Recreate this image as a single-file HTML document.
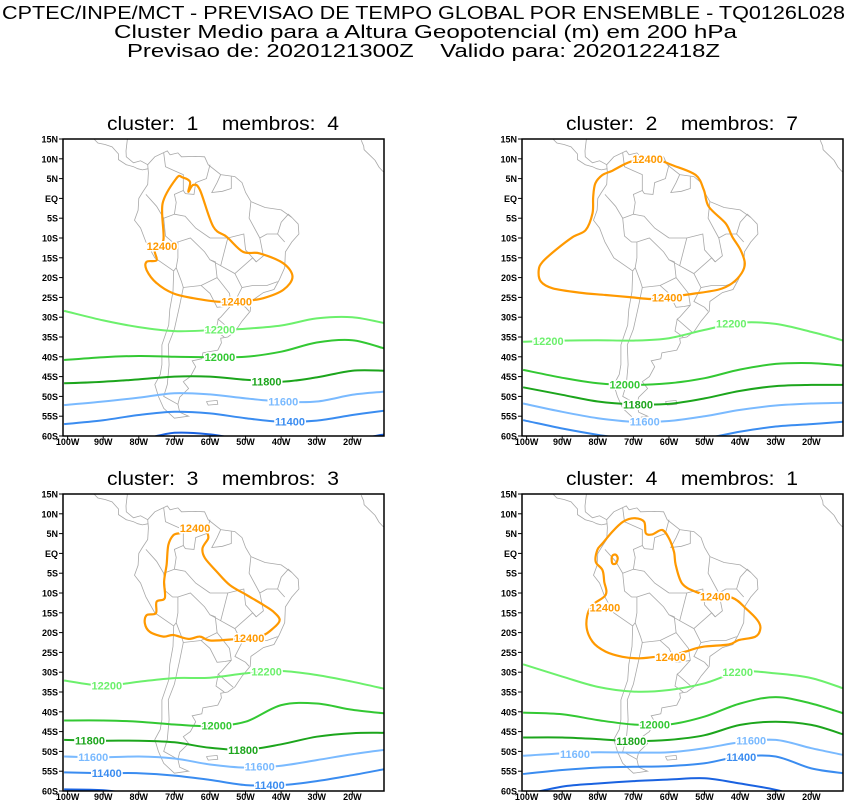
<!DOCTYPE html>
<html><head><meta charset="utf-8">
<style>
body{margin:0;background:#fff;}
svg{display:block;}
text{font-family:"Liberation Sans",sans-serif;white-space:pre;}
</style></head>
<body>
<svg id="chart" width="847" height="803" viewBox="0 0 847 803" xmlns="http://www.w3.org/2000/svg">
<text x="2" y="19" font-size="18" textLength="843" lengthAdjust="spacingAndGlyphs">CPTEC/INPE/MCT - PREVISAO DE TEMPO GLOBAL POR ENSEMBLE - TQ0126L028</text>
<text x="114" y="38" font-size="18" textLength="623" lengthAdjust="spacingAndGlyphs">Cluster Medio para a Altura Geopotencial (m) em 200 hPa</text>
<text x="127" y="57" font-size="18" textLength="593" lengthAdjust="spacingAndGlyphs">Previsao de: 2020121300Z    Valido para: 2020122418Z</text>
</svg>
<script>
// ---------- data ----------
const lonGrid = [-101,-90,-80,-70,-60,-50,-40,-30,-20,-11];
const latTicks = [15,10,5,0,-5,-10,-15,-20,-25,-30,-35,-40,-45,-50,-55,-60];
const latTickLabels = ["15N","10N","5N","EQ","5S","10S","15S","20S","25S","30S","35S","40S","45S","50S","55S","60S"];
const lonTicks = [-100,-90,-80,-70,-60,-50,-40,-30,-20];
const lonTickLabels = ["100W","90W","80W","70W","60W","50W","40W","30W","20W"];
const clusterIds = [1,2,3,4];
const memberCounts = [4,7,3,1];
const levels = [12200,12000,11800,11600,11400,11200];
const levelColors = {12400:"#ff9900",12200:"#6cf06c",12000:"#33c833",11800:"#1ca51c",11600:"#7abaff",11400:"#3a8cf0",11200:"#1a62e0"};

const c1_12200=[-28.4,-30.8,-32.5,-33.5,-33.3,-32.9,-32.1,-30.3,-30.0,-31.5];
const c1_12000=[-40.8,-40.1,-39.8,-40.0,-40.1,-40.0,-38.7,-36.4,-35.8,-37.9];
const c1_11800=[-46.7,-46.3,-45.7,-45.0,-45.0,-45.8,-46.3,-45.2,-43.5,-43.5];
const c1_11600=[-52.2,-51.3,-50.3,-49.2,-49.5,-50.5,-51.3,-51.3,-49.6,-48.8];
const c1_11400=[-57.0,-56.0,-54.7,-53.9,-54.3,-55.5,-56.4,-56.1,-54.7,-53.6];
const c1_11200=[-62,-62,-61,-59.2,-59.6,-61,-62,-62,-61,-59.6];

const c2_12200=[-36.2,-35.9,-35.8,-35.9,-35.3,-33.2,-31.4,-31.7,-33.7,-35.9];
const c2_12000=[-43.3,-45.3,-46.7,-47.1,-46.7,-45.4,-43.2,-41.8,-41.6,-42.2];
const c2_11800=[-47.7,-49.6,-51.3,-52.0,-51.9,-50.5,-48.6,-47.4,-47.1,-47.1];
const c2_11600=[-51.8,-53.9,-55.5,-56.4,-56.2,-55.0,-53.4,-52.3,-51.8,-51.6];
const c2_11400=[-56.0,-58.1,-59.7,-61.0,-61.4,-60.6,-58.9,-57.6,-57.0,-56.4];
const c2_11200=[-64,-64,-65,-66,-66,-66,-65,-64,-63,-63];

const c3_12200=[-32.1,-33.4,-32.4,-31.5,-31.4,-30.3,-29.7,-30.7,-32.4,-34.2];
const c3_12000=[-42.2,-42.2,-42.5,-43.2,-43.6,-42.5,-38.3,-37.9,-39.5,-40.4];
const c3_11800=[-47.1,-47.3,-47.3,-47.7,-49.1,-49.6,-48.2,-46.3,-45.4,-45.3];
const c3_11600=[-51.3,-51.5,-51.3,-51.8,-53.3,-54.1,-53.6,-52.2,-50.7,-49.6];
const c3_11400=[-55.3,-55.5,-55.5,-56.1,-57.2,-58.5,-58.5,-57.5,-56.0,-54.5];
const c3_11200=[-59.6,-59.8,-61,-62,-63,-64,-64,-63,-62,-61];

const c4_12200=[-28.0,-31.1,-33.7,-34.9,-34.5,-32.8,-29.9,-30.3,-31.5,-34.1];
const c4_12000=[-40.2,-40.6,-42.1,-43.2,-43.2,-41.2,-37.9,-36.3,-37.9,-40.4];
const c4_11800=[-46.5,-46.5,-46.9,-47.4,-47.1,-45.9,-43.3,-42.5,-43.3,-45.7];
const c4_11600=[-51.1,-50.5,-50.2,-50.3,-50.2,-49.2,-47.7,-47.1,-49.2,-50.9];
const c4_11400=[-55.7,-54.7,-54.1,-53.9,-53.7,-53.0,-51.3,-51.3,-54.3,-55.5];
const c4_11200=[-61.0,-58.9,-58.1,-57.5,-57.1,-56.8,-58.1,-59.7,-62.0,-63.0];

const c1_12400=[[-73.1,-10.5],[-73.3,-1.3],[-69.4,5.1],[-67.7,5.3],[-65.6,4.2],[-66.1,1.7],[-64.7,3.4],[-62.8,2.1],[-59.1,-7.1],[-55.3,-9.7],[-50.7,-13.5],[-46.0,-13.9],[-39.4,-16.4],[-36.8,-19.8],[-39.4,-23.1],[-45.0,-25.2],[-49.7,-25.8],[-57.2,-26.1],[-64.7,-25.2],[-70.3,-24.0],[-75.0,-21.4],[-77.8,-18.1],[-77.8,-16.0],[-75.0,-15.6],[-75.5,-13.0],[-73.1,-10.5]];
const c2_12400=[[-70.7,9.3],[-64.7,10.1],[-59.1,8.4],[-52.5,5.9],[-50.2,2.1],[-48.8,-2.1],[-44.1,-6.3],[-42.2,-9.7],[-39.9,-13.0],[-38.7,-16.4],[-39.6,-18.9],[-42.2,-21.4],[-46.0,-23.0],[-52.5,-24.0],[-59.1,-24.8],[-64.7,-25.4],[-70.3,-25.0],[-77.8,-24.4],[-85.2,-23.8],[-92.7,-22.7],[-96.0,-21.0],[-96.6,-18.1],[-95.5,-16.0],[-91.8,-13.0],[-87.1,-9.8],[-83.4,-8.0],[-81.5,-3.8],[-81.3,0.4],[-80.7,3.8],[-78.7,5.9],[-75.9,7.0],[-70.7,9.3]];
const c3_12400=[[-68.4,5.1],[-70.3,4.6],[-71.7,2.1],[-72.2,-2.9],[-72.9,-7.1],[-72.7,-11.3],[-75.0,-12.2],[-75.2,-15.1],[-77.8,-15.6],[-78.3,-17.7],[-76.9,-19.8],[-73.1,-21.0],[-70.3,-20.6],[-66.1,-21.6],[-62.8,-21.0],[-60.0,-22.0],[-53.5,-21.7],[-46.0,-21.0],[-42.2,-18.9],[-40.4,-16.8],[-42.2,-14.7],[-45.0,-13.0],[-49.7,-10.5],[-54.4,-8.0],[-58.1,-4.6],[-61.4,-1.2],[-62.1,1.3],[-60.5,3.8],[-60.8,5.3]];
const c4_12400=[[-72.9,8.0],[-69.8,8.9],[-67.0,8.0],[-66.5,5.1],[-64.7,4.8],[-61.9,5.9],[-60.0,3.8],[-58.6,0.4],[-58.1,-2.9],[-56.3,-7.6],[-52.5,-9.7],[-48.8,-10.5],[-42.2,-11.2],[-38.4,-13.9],[-35.2,-16.8],[-34.3,-18.9],[-35.7,-21.0],[-40.4,-21.9],[-43.2,-23.0],[-50.7,-23.6],[-55.3,-24.8],[-59.1,-25.7],[-64.7,-26.2],[-68.4,-26.5],[-73.1,-26.1],[-77.8,-24.8],[-81.5,-22.3],[-83.2,-18.1],[-82.0,-13.5],[-77.8,-10.5],[-78.2,-7.1],[-78.7,-4.2],[-80.6,-2.1],[-80.1,0.9],[-78.7,2.5],[-75.9,5.5],[-72.9,8.0]];
const c4_12400b=[[-75.9,-0.6],[-75.0,-0.3],[-74.4,-1.2],[-74.9,-2.5],[-75.8,-2.6],[-76.1,-1.6],[-75.9,-0.6]];

const c1_labels=[[12400,-73.5,-12.0],[12400,-52.5,-26.0],[12200,-57.2,-33.1],[12000,-57.2,-40.1],[11800,-44.1,-46.2],[11600,-39.4,-51.3],[11400,-37.5,-56.4]];
const c2_labels=[[12400,-66.0,9.9],[12400,-60.5,-25.0],[12200,-93.9,-36.0],[12200,-42.5,-31.6],[12000,-72.4,-47.0],[11800,-68.7,-52.0],[11600,-66.8,-56.4]];
const c3_labels=[[12400,-64.2,6.4],[12400,-49.0,-21.4],[12200,-89.0,-33.3],[12200,-44.1,-29.8],[12000,-58.1,-43.4],[11800,-93.7,-47.2],[11800,-50.7,-49.6],[11600,-92.8,-51.4],[11600,-46.0,-53.8],[11400,-89.0,-55.5],[11400,-43.2,-58.5]];
const c4_labels=[[12400,-78.0,-13.6],[12400,-47.0,-10.9],[12400,-59.5,-26.1],[12200,-40.7,-29.9],[12000,-64.0,-43.2],[11800,-70.6,-47.4],[11600,-86.4,-50.6],[11600,-36.9,-47.3],[11400,-39.7,-51.4]];

const coastSA=[[-77.5,8.5],[-75.5,10.5],[-72,12],[-71.2,11],[-69,11.5],[-68,10.5],[-64,10.6],[-61.5,10.5],[-60.5,8.5],[-57,6],[-53,5.5],[-51,4],[-50,1.5],[-48.5,-0.8],[-44.5,-2.3],[-40,-2.9],[-37,-4.8],[-35.2,-6.5],[-35,-9],[-37,-11],[-38.8,-13.5],[-39,-17.5],[-40.5,-20.5],[-42,-23],[-45,-23.8],[-48.5,-26],[-48.7,-28.5],[-51,-31],[-53,-33.7],[-55,-35],[-57,-35.3],[-56.8,-36.5],[-57.8,-38.3],[-62,-39],[-62.3,-40.5],[-65,-41],[-64,-42.5],[-65.5,-45],[-67.5,-46.3],[-66,-48],[-68.5,-50.2],[-69,-52],[-68.5,-54],[-66,-55],[-70,-55.5],[-73,-53],[-74.5,-50],[-75.5,-47],[-74,-44.5],[-73.5,-42],[-73.5,-37],[-71.6,-32],[-71.3,-28],[-70.4,-23.5],[-70.2,-18.3],[-75.5,-15],[-78,-11],[-79.5,-7.5],[-81.2,-5.5],[-80.2,-3],[-80,0],[-79,1.5],[-77.5,3.5],[-77.3,6.5],[-77.5,8.5]];
const coastCA=[[-77.5,8.5],[-79.5,9.5],[-81.5,9],[-83.5,10.5],[-83.6,12],[-83.2,15],[-85,16],[-88,16],[-88.5,18],[-87.5,20],[-86.8,21.5]];
const coastCA2=[[-77.3,7.5],[-79,7.2],[-80.3,7.5],[-81.5,8],[-83.5,8.5],[-85.7,9.8],[-85.7,11.2],[-87.5,13],[-89.5,13.6],[-91.5,14],[-93.5,15.8],[-95,16.2]];
const coastAF=[[-17.5,14.7],[-16.8,13.2],[-16.7,12.3],[-15.2,11],[-13.6,9.6],[-12.5,7.9],[-11.5,6.9],[-10,6]];
const borders=[
 [[-73,11.5],[-72.5,8],[-70,7],[-67.5,6],[-67.5,2],[-70,1],[-69.5,-1],[-70,-4],[-73,-5],[-75,-2],[-78,1]],
 [[-60,8.5],[-61,5],[-64,4],[-64.5,1],[-66.9,1.2],[-67.5,2]],
 [[-57,6],[-58,4],[-59.5,1.5],[-56.5,1.8],[-54,2.5],[-54,5.5]],
 [[-73,-5],[-72.5,-9.5],[-70.5,-11],[-69,-11],[-65.5,-10],[-61.5,-13.5],[-60,-15.5],[-58.5,-16],[-58,-20],[-54.5,-24],[-54,-27],[-57,-30],[-57.7,-30.5],[-53.5,-33.8]],
 [[-69,-11],[-69,-15],[-69.5,-17.5],[-68,-21],[-67.5,-22.5],[-62.5,-22],[-58,-20]],
 [[-69.5,-17.5],[-70.2,-18.3]],
 [[-67.5,-22.5],[-68.5,-27],[-70,-33],[-71.7,-37],[-71.5,-42],[-72,-47],[-73,-50],[-69,-52]],
 [[-62.5,-22],[-60,-24],[-58,-27.5],[-55.8,-27.3],[-54,-27]],
 [[-57.7,-30.5],[-58.3,-33.5],[-56,-35]],
 [[-60,-10],[-55,-10],[-50.5,-9],[-50,-13],[-47,-16],[-45,-14.5],[-46,-10],[-44,-9],[-41,-9],[-39,-11]],
 [[-55,-10],[-57,-17],[-53,-19],[-51,-22.5],[-48,-22],[-44,-22],[-41,-21]],
 [[-53,-19],[-48,-15],[-47,-16]],
 [[-60,-10],[-64,-7.5],[-67,-4.5],[-70,-4]],
 [[-57,-17],[-60,-15.5]],
 [[-46,-10],[-49,-5],[-48.5,-0.8]],
 [[-41,-9],[-40,-6],[-38,-4],[-37,-4.8]],
 [[-51,-22.5],[-53,-26],[-50,-27.5],[-49,-28.5]]
];
const falklands=[[-61,-51.3],[-58,-51],[-57.8,-52],[-60.5,-52.2],[-61,-51.3]];

// ---------- drawing ----------
const NS="http://www.w3.org/2000/svg";
const svg=document.getElementById("chart");
const PW=321, PH=297, LONL=-101.3, LONR=-11.1, LATT=15, LATB=-60;
const panelOrigins=[[63,139],[522,139],[63,494],[522,494]];

function mk(tag,attrs,parent){const e=document.createElementNS(NS,tag);for(const k in attrs)e.setAttribute(k,attrs[k]);(parent||svg).appendChild(e);return e;}
function catmull(pts,closed){
  if(pts.length<2)return "";
  let d="M"+pts[0][0].toFixed(1)+","+pts[0][1].toFixed(1);
  const n=pts.length;
  for(let i=0;i<n-1;i++){
    const p0=pts[i>0?i-1:(closed?n-2:0)],p1=pts[i],p2=pts[i+1],p3=pts[i+2<n?i+2:(closed?1:n-1)];
    const c1x=p1[0]+(p2[0]-p0[0])/6,c1y=p1[1]+(p2[1]-p0[1])/6;
    const c2x=p2[0]-(p3[0]-p1[0])/6,c2y=p2[1]-(p3[1]-p1[1])/6;
    d+="C"+c1x.toFixed(1)+","+c1y.toFixed(1)+" "+c2x.toFixed(1)+","+c2y.toFixed(1)+" "+p2[0].toFixed(1)+","+p2[1].toFixed(1);
  }
  return d;
}

const clusterLines=[
 {12200:c1_12200,12000:c1_12000,11800:c1_11800,11600:c1_11600,11400:c1_11400,11200:c1_11200},
 {12200:c2_12200,12000:c2_12000,11800:c2_11800,11600:c2_11600,11400:c2_11400,11200:c2_11200},
 {12200:c3_12200,12000:c3_12000,11800:c3_11800,11600:c3_11600,11400:c3_11400,11200:c3_11200},
 {12200:c4_12200,12000:c4_12000,11800:c4_11800,11600:c4_11600,11400:c4_11400,11200:c4_11200}];
const cluster12400=[[c1_12400],[c2_12400],[c3_12400],[c4_12400,c4_12400b]];
const clusterClosed=[[true],[true],[false],[true,true]];
const clusterLabels=[c1_labels,c2_labels,c3_labels,c4_labels];

clusterIds.forEach((cid,pi)=>{
  const [ox,oy]=panelOrigins[pi];
  const X=lon=>ox+(lon-LONL)*PW/(LONR-LONL);
  const Y=lat=>oy+(LATT-lat)*PH/(LATT-LATB);
  const g=mk("g",{});
  
  
  const t=mk("text",{x:ox+44,y:oy-9,"font-size":"19",textLength:"232",lengthAdjust:"spacingAndGlyphs"},g);
  
  
  t.textContent="cluster:  "+cid+"    membros:  "+memberCounts[pi];
  const clipId="clip"+cid;
  const cp=mk("clipPath",{id:clipId},g);mk("rect",{x:ox,y:oy,width:PW,height:PH},cp);
  const inner=mk("g",{"clip-path":"url(#"+clipId+")"},g);
  const map=mk("g",{fill:"none",stroke:"#a8a8a8","stroke-width":"0.8"},inner);
  
  
  [coastSA,coastCA,coastCA2,coastAF,falklands].concat(borders).forEach(line=>{
    const p=mk("polyline",{points:line.map(q=>X(q[0]).toFixed(1)+","+Y(q[1]).toFixed(1)).join(" ")},map);
    
    
  });
  const lines=clusterLines[pi];
  levels.forEach(lv=>{
    const arr=lines[lv];
    const pts=lonGrid.map((lo,i)=>[X(lo),Y(arr[i])]);
    const p=mk("path",{d:catmull(pts,false),fill:"none",stroke:levelColors[lv],"stroke-width":"2"},inner);
    
    
  });
  cluster12400[pi].forEach((c,k)=>{
    const pts=c.map(q=>[X(q[0]),Y(q[1])]);
    const p=mk("path",{d:catmull(pts,clusterClosed[pi][k]),fill:"none",stroke:levelColors[12400],"stroke-width":"2.2"},inner);
    
    
  });
  clusterLabels[pi].forEach(l=>{
    const tx=mk("text",{x:X(l[1]),y:Y(l[2])+4,"text-anchor":"middle","font-size":"11","font-weight":"bold",fill:levelColors[l[0]],stroke:"#fff","stroke-width":"3","paint-order":"stroke"},inner);
    
    
    tx.textContent=l[0];
  });
  const fr=mk("rect",{x:ox,y:oy,width:PW,height:PH,fill:"none",stroke:"#000","stroke-width":"1.5"},g);
  
  
  latTicks.forEach((la,i)=>{
    const y=Y(la);
    mk("line",{x1:ox-4,x2:ox,y1:y,y2:y,stroke:"#000","stroke-width":"1"},g);
    const tt=mk("text",{x:ox-5,y:y+3.5,"text-anchor":"end","font-size":"9","font-weight":"bold"},g);
    
    
    tt.textContent=latTickLabels[i];
  });
  lonTicks.forEach((lo,i)=>{
    const x=X(lo);
    mk("line",{x1:x,x2:x,y1:oy+PH,y2:oy+PH+4,stroke:"#000","stroke-width":"1"},g);
    const tt=mk("text",{x:x,y:oy+PH+9,"text-anchor":"middle","font-size":"9","font-weight":"bold"},g);
    
    
    tt.textContent=lonTickLabels[i];
  });
});
</script>
</body></html>
